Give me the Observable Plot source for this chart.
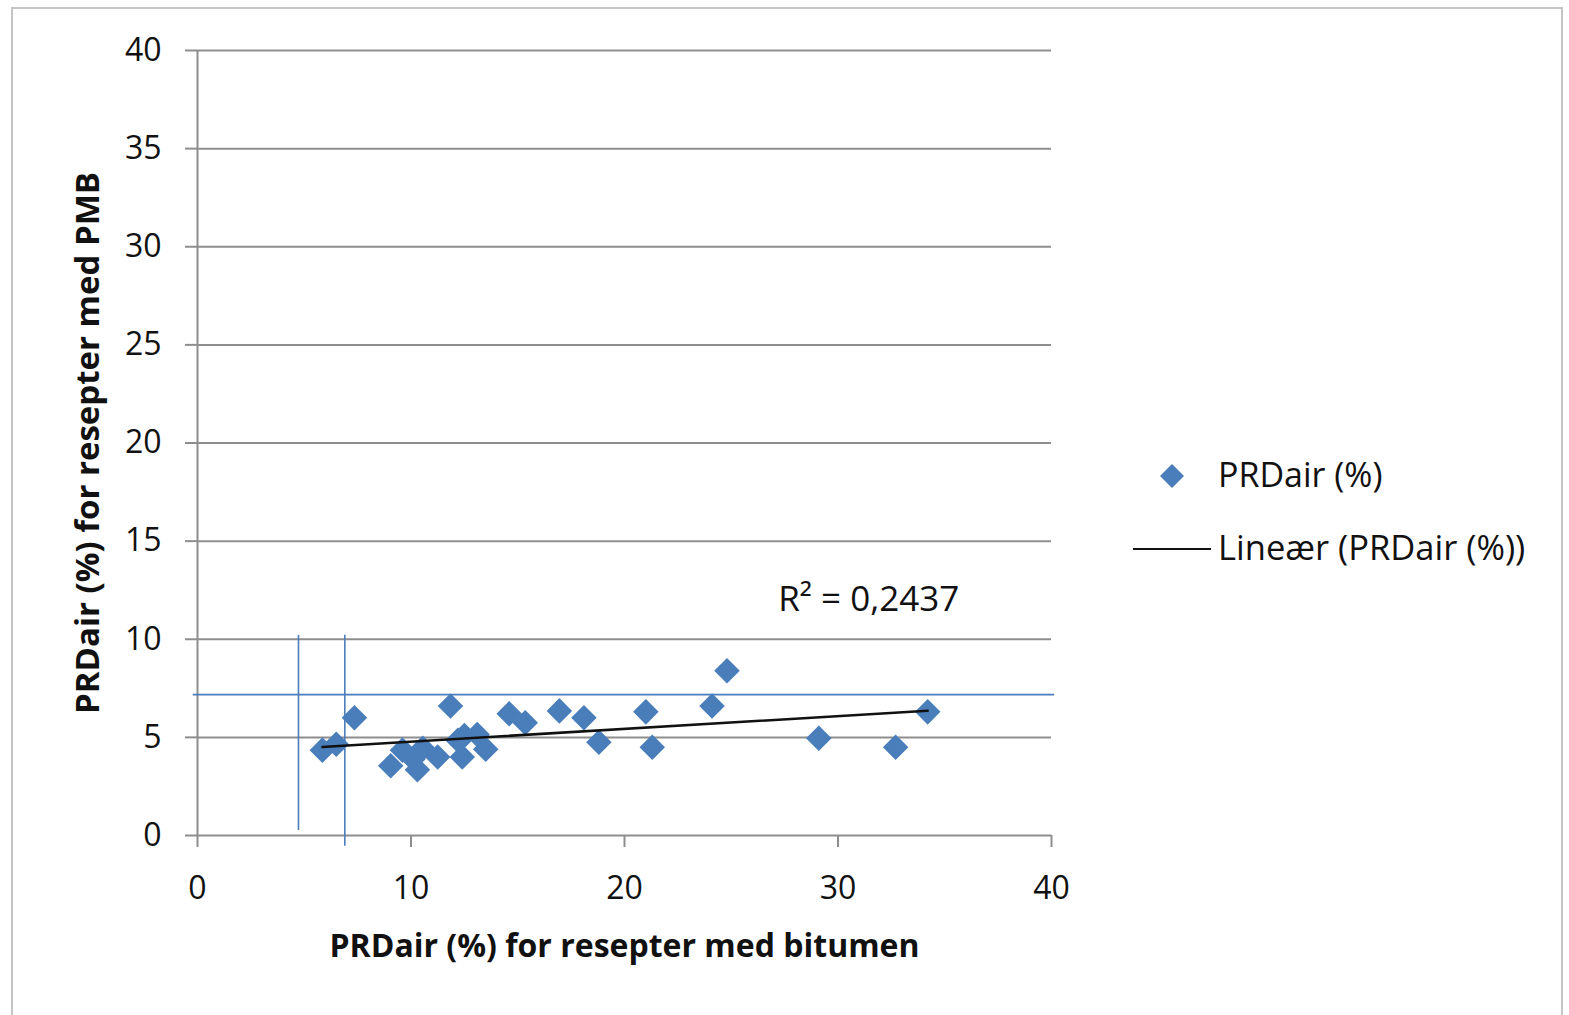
<!DOCTYPE html>
<html>
<head>
<meta charset="utf-8">
<script src="https://cdn.jsdelivr.net/npm/d3@7"></script>
<script src="https://cdn.jsdelivr.net/npm/@observablehq/plot@0.6"></script>
<style>
  html, body { margin: 0; padding: 0; background: #fff; }
  #wrap { position: relative; width: 1569px; height: 1015px; overflow: hidden; font-family: "Open Sans", sans-serif; }
  #frame { position: absolute; left: 11px; top: 7px; width: 1552px; height: 1100px; border: 2px solid #c4c4c4; box-sizing: border-box; }
  #chart { position: absolute; left: 0; top: 0; }
  .leg { position: absolute; font-size: 34px; color: #111; white-space: nowrap; line-height: 1; }
</style>
</head>
<body>
<div id="wrap">
  <div id="frame"></div>
  <div id="chart"></div>
  <svg class="leg" style="left:1158px; top:462px;" width="28" height="28"><polygon points="14,2 26,14 14,26 2,14" fill="#4a7ebb"/></svg>
  <div class="leg" style="left:1218px; top:457px;">PRDair (%)</div>
  <svg class="leg" style="left:1133px; top:547px;" width="78" height="4"><line x1="0" y1="2" x2="78" y2="2" stroke="#111" stroke-width="2"/></svg>
  <div class="leg" style="left:1218px; top:530px; font-size:34.5px;">Lineær (PRDair (%))</div>
</div>
<script>
// Data
const xBitumen = [5.85, 6.5, 7.35, 9.05, 9.6, 10.3, 10.55, 10.1, 11.25, 11.85, 12.4, 12.5, 12.2, 13.1, 13.5, 14.6, 15.35, 16.95, 18.1, 18.8, 21.0, 21.3, 24.1, 24.8, 29.1, 32.7, 34.2];
const yPMB     = [4.35, 4.65, 6.0, 3.55, 4.35, 3.35, 4.45, 3.9, 4.0, 6.6, 4.0, 5.1, 4.85, 5.15, 4.4, 6.2, 5.75, 6.35, 6.0, 4.75, 6.3, 4.5, 6.6, 8.4, 4.95, 4.5, 6.3];
const ticks = [0, 5, 10, 15, 20, 25, 30, 35, 40];
const xTicks = [0, 10, 20, 30, 40];
const xLabel = "PRDair (%) for resepter med bitumen";
const yLabel = "PRDair (%) for resepter med PMB";
const r2Label = "R² = 0,2437";
const r2Pos = {x: 27.2, y: 12};
// Hand-drawn blue reference lines (data units)
const refVX = [4.73, 6.9];
const refVFrom = [0.25, -0.55];
const refVTo = [10.2, 10.2];
const refHY = [7.18];
const refHFrom = [-0.2];
const refHTo = [40.15];

const points = xBitumen.map((x, i) => ({x, y: yPMB[i]}));
const vLines = refVX.map((x, i) => ({x, y1: refVFrom[i], y2: refVTo[i]}));
const hLines = refHY.map((y, i) => ({y, x1: refHFrom[i], x2: refHTo[i]}));

const grey = "#8e8e8e";
const blue = "#4a7ebb";

const chart = Plot.plot({
  width: 1569,
  height: 1015,
  marginLeft: 197,
  marginRight: 518,
  marginTop: 50,
  marginBottom: 180,
  style: {fontFamily: "'Open Sans', sans-serif", background: "transparent", overflow: "visible"},
  x: {domain: [0, 40]},
  y: {domain: [0, 40]},
  marks: [
    Plot.gridY(ticks, {stroke: grey, strokeOpacity: 1, strokeWidth: 2}),
    Plot.ruleX([0], {stroke: grey, strokeWidth: 2}),
    Plot.axisY({ticks, tickSize: 12, tickPadding: 24, fontSize: 32, stroke: grey, strokeWidth: 2, fill: "#111", label: null}),
    Plot.axisX({ticks: xTicks, tickSize: 12, tickPadding: 29, fontSize: 32, stroke: grey, strokeWidth: 2, fill: "#111", label: null}),
    Plot.ruleX(vLines, {x: "x", y1: "y1", y2: "y2", stroke: blue, strokeWidth: 1.6}),
    Plot.ruleY(hLines, {y: "y", x1: "x1", x2: "x2", stroke: blue, strokeWidth: 1.6}),
    Plot.dot(points, {x: "x", y: "y", symbol: "diamond2", r: 11.5, fill: blue, stroke: "none"}),
    Plot.linearRegressionY(points, {x: "x", y: "y", ci: 0, stroke: "#111", strokeWidth: 2.5}),
    Plot.text([r2Label], {x: r2Pos.x, y: r2Pos.y, text: d => d, textAnchor: "start", fontSize: 35, fill: "#111"}),
    Plot.text([xLabel], {frameAnchor: "bottom", dy: 111, lineAnchor: "middle", textAnchor: "middle", text: d => d, fontSize: 32, fontWeight: "bold", fill: "#111"}),
    Plot.text([yLabel], {frameAnchor: "left", dx: -109, rotate: -90, lineAnchor: "middle", textAnchor: "middle", text: d => d, fontSize: 33, fontWeight: "bold", fill: "#111"})
  ]
});
document.getElementById("chart").appendChild(chart);
</script>
</body>
</html>
